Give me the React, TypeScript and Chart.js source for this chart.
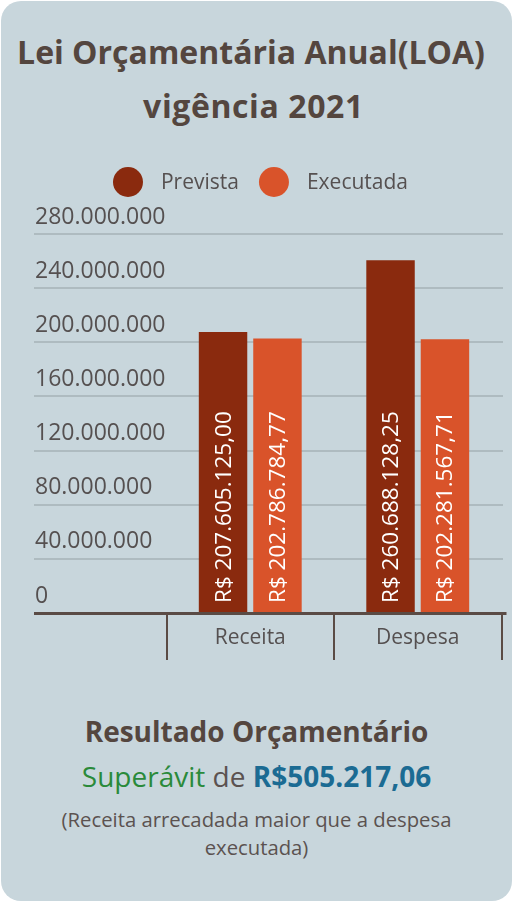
import React, { useEffect, useRef } from 'react';
import { Chart, registerables } from 'chart.js';

Chart.register(...registerables);

const FONT = '"Open Sans", sans-serif';

// ---- data ----
const categories: string[] = ['', 'Receita', 'Despesa'];
const seriesNames: string[] = ['Prevista', 'Executada'];
const prevista: (number | null)[] = [null, 207605125.0, 260688128.25];
const executada: (number | null)[] = [null, 202786784.77, 202281567.71];
const yTickValues: number[] = [0, 40000000, 80000000, 120000000, 160000000, 200000000, 240000000, 280000000];
const seriesColors: string[] = ['#8a2a0e', '#d9532a'];

const resultTitle = 'Resultado Orçamentário';
const resultKind = 'Superávit';
const resultValue = 'R$505.217,06';
const resultNote1 = '(Receita arrecadada maior que a despesa';
const resultNote2 = 'executada)';

function dots(n: number): string {
  return String(Math.round(n)).replace(/\B(?=(\d{3})+(?!\d))/g, '.');
}
function brl(v: number): string {
  const [i, d] = v.toFixed(2).split('.');
  return 'R$ ' + i.replace(/\B(?=(\d{3})+(?!\d))/g, '.') + ',' + d;
}

// canvas geometry (canvas is placed at page x = -20, y = 150)
const CANVAS_W = 534;
const CANVAS_H = 530;
const GRID_LEFT = 54;
const GRID_RIGHT = 523;
const AXIS_RIGHT = 526.5;

const gridPlugin = {
  id: 'customGrid',
  beforeDatasetsDraw(chart: any) {
    const ys = chart.scales.y;
    const ctx = chart.ctx;
    ctx.save();
    ctx.strokeStyle = '#aebbc0';
    ctx.lineWidth = 2;
    ys.ticks.forEach((t: any) => {
      if (t.value === 0) return;
      const py = Math.round(ys.getPixelForValue(t.value));
      ctx.beginPath();
      ctx.moveTo(GRID_LEFT, py);
      ctx.lineTo(GRID_RIGHT, py);
      ctx.stroke();
    });
    ctx.restore();
  },
  afterDatasetsDraw(chart: any) {
    const ys = chart.scales.y;
    const ctx = chart.ctx;
    ctx.save();
    // value labels
    chart.data.datasets.forEach((ds: any, di: number) => {
      const meta = chart.getDatasetMeta(di);
      meta.data.forEach((bar: any, j: number) => {
        const v = ds.data[j];
        if (v == null) return;
        ctx.save();
        ctx.translate(bar.x + 7.5, bar.base - 10);
        ctx.rotate(-Math.PI / 2);
        ctx.fillStyle = '#ffffff';
        ctx.font = `22.5px ${FONT}`;
        ctx.textAlign = 'left';
        ctx.textBaseline = 'alphabetic';
        ctx.fillText(brl(v), 0, 0);
        ctx.restore();
      });
    });
    // zero axis line
    const py = Math.round(ys.getPixelForValue(0)) + 0.5;
    ctx.strokeStyle = '#5a4b45';
    ctx.lineWidth = 3;
    ctx.beginPath();
    ctx.moveTo(GRID_LEFT, py);
    ctx.lineTo(AXIS_RIGHT, py);
    ctx.stroke();
    ctx.restore();
  },
  afterDraw(chart: any) {
    const ctx = chart.ctx;
    ctx.save();
    ctx.font = `21px ${FONT}`;
    const r = 15, gap = 18, itemGap = 20;
    const items = chart.data.datasets.map((ds: any) => ({
      label: ds.label as string,
      color: ds.backgroundColor as string,
      w: ctx.measureText(ds.label).width,
    }));
    const total = items.reduce((s: number, it: any) => s + 2 * r + gap + it.w, 0) + itemGap * (items.length - 1);
    let x = 280.5 - total / 2;
    const y = 32;
    items.forEach((it: any) => {
      ctx.fillStyle = it.color;
      ctx.beginPath();
      ctx.arc(x + r, y, r, 0, Math.PI * 2);
      ctx.fill();
      ctx.fillStyle = '#555050';
      ctx.textAlign = 'left';
      ctx.textBaseline = 'middle';
      ctx.fillText(it.label, x + 2 * r + gap, y + 1);
      x += 2 * r + gap + it.w + itemGap;
    });
    ctx.restore();
  },
};

export default function App() {
  const ref = useRef<HTMLCanvasElement>(null);

  useEffect(() => {
    if (!ref.current) return;
    const chart = new Chart(ref.current, {
      type: 'bar',
      data: {
        labels: categories,
        datasets: [
          { label: seriesNames[0], data: prevista as any, backgroundColor: seriesColors[0], borderWidth: 0 },
          { label: seriesNames[1], data: executada as any, backgroundColor: seriesColors[1], borderWidth: 0 },
        ],
      },
      options: {
        responsive: false,
        animation: false,
        events: [],
        categoryPercentage: 0.65,
        barPercentage: 0.89,
        layout: { padding: { left: 19, right: 12.5, top: 84, bottom: 20 } },
        plugins: {
          legend: { display: false },
          tooltip: { enabled: false },
          title: { display: false },
        },
        scales: {
          x: {
            type: 'category',
            offset: true,
            grid: { offset: true, drawOnChartArea: false, drawTicks: true, tickLength: 47, color: '#5a4b45', lineWidth: 2 },
            border: { display: false },
            ticks: { padding: -35, color: '#555050', font: { family: FONT, size: 21 }, maxRotation: 0, autoSkip: false },
            afterFit: (s: any) => { s.height = 47; },
          },
          y: {
            min: 0,
            max: yTickValues[yTickValues.length - 1],
            afterFit: (s: any) => { s.width = 0; },
            afterBuildTicks: (s: any) => { s.ticks = yTickValues.map((v) => ({ value: v })); },
            grid: { display: false },
            border: { display: false },
            ticks: {
              mirror: true,
              padding: 36,
              labelOffset: -17,
              color: '#555050',
              font: { family: FONT, size: 23 },
              callback: (v: any) => dots(Number(v)),
            },
          },
        },
      } as any,
      plugins: [gridPlugin],
    });
    return () => chart.destroy();
  }, []);

  const line = (top: number, size: number, weight: number, width: number, color: string): React.CSSProperties => ({
    position: 'absolute', left: 0, top, width, textAlign: 'center', fontSize: size, lineHeight: `${size}px`,
    fontWeight: weight, color, whiteSpace: 'nowrap',
  });

  return (
    <div style={{ position: 'absolute', left: 1, top: 1, width: 511, height: 900, borderRadius: 20, background: '#c8d6dc', overflow: 'hidden', fontFamily: FONT }}>
      <div style={line(35, 32, 700, 500, '#54463f')}>Lei Orçamentária Anual(LOA)</div>
      <div style={{ ...line(89, 32, 700, 505, '#54463f'), letterSpacing: '0.6px' }}>vigência 2021</div>
      <canvas ref={ref} width={CANVAS_W} height={CANVAS_H} style={{ position: 'absolute', left: -21, top: 149, width: CANVAS_W, height: CANVAS_H }} />
      <div style={line(716, 28, 700, 511, '#54463f')}>{resultTitle}</div>
      <div style={line(761, 28, 400, 511, '#5b5250')}>
        <span style={{ color: '#2a8a3a' }}>{resultKind}</span> de <span style={{ color: '#1b6b93', fontWeight: 700 }}>{resultValue}</span>
      </div>
      <div style={line(808, 20.3, 400, 511, '#5b5250')}>{resultNote1}</div>
      <div style={line(836, 20.3, 400, 511, '#5b5250')}>{resultNote2}</div>
    </div>
  );
}
